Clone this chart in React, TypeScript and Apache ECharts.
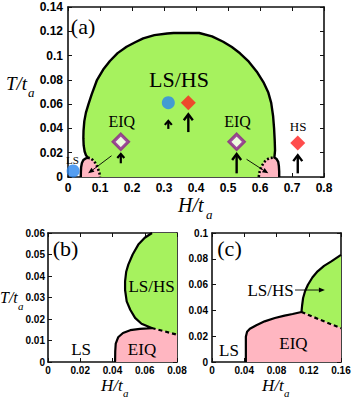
import React, { useEffect, useRef } from "react";
import * as echarts from "echarts";

type Pt = [number, number];

const SERIF = "'Liberation Serif', 'DejaVu Serif', serif";
const SANS = "'Liberation Sans', Arial, sans-serif";
const GREEN = "#a6f25e";
const PINK = "#ffb6c1";
const BLUE = "#2b86ee";
const RED = "#ff1f1f";
const PURPLE = "#8b1c8b";

// ---------- axis ranges / ticks ----------
const axisA = { xMin: 0, xMax: 0.8, xStep: 0.1, yMin: 0, yMax: 0.14, yStep: 0.02 };
const axisB = { xMin: 0, xMax: 0.08, xStep: 0.02, yMin: 0, yMax: 0.06, yStep: 0.01 };
const axisC = { xMin: 0, xMax: 0.16, xStep: 0.04, yMin: 0, yMax: 0.1, yStep: 0.02 };

// ---------- panel (a) boundaries (H, T) ----------
const aLeftPinkSolid: Pt[] = [
  [0.04, 0], [0.0402, 0.004], [0.041, 0.008], [0.0435, 0.0115], [0.048, 0.014], [0.055, 0.0153], [0.062, 0.0158],
];
const aLeftPinkDotted: Pt[] = [
  [0.062, 0.0158], [0.07, 0.0155], [0.078, 0.0138], [0.086, 0.0113], [0.093, 0.0075], [0.098, 0.0035], [0.1, 0],
];
const aDome: Pt[] = [
  [0.062, 0.0158], [0.056, 0.018], [0.052, 0.021], [0.049, 0.026], [0.048, 0.032], [0.0485, 0.038],
  [0.051, 0.046], [0.056, 0.053], [0.064, 0.06], [0.074, 0.068], [0.09, 0.0795], [0.11, 0.0885],
  [0.131, 0.0955], [0.155, 0.102], [0.183, 0.1073], [0.21, 0.111], [0.235, 0.1142], [0.27, 0.1168],
  [0.31, 0.1182], [0.33, 0.1186], [0.41, 0.1186], [0.45, 0.1158], [0.485, 0.1114], [0.512, 0.107],
  [0.5375, 0.1019], [0.565, 0.095], [0.59, 0.0867], [0.612, 0.0775], [0.626, 0.0695], [0.635, 0.061],
  [0.641, 0.05], [0.644, 0.04], [0.646, 0.03], [0.647, 0.022], [0.645, 0.016],
];
const aRightPinkDotted: Pt[] = [
  [0.596, 0], [0.599, 0.0045], [0.605, 0.0088], [0.613, 0.0122], [0.622, 0.0145], [0.632, 0.0157], [0.645, 0.016],
];
const aRightPinkSolid: Pt[] = [
  [0.645, 0.016], [0.652, 0.0148], [0.657, 0.0125], [0.659, 0.009], [0.66, 0.0045], [0.66, 0],
];

// markers (a)
const aBlueCircles: Pt[] = [[0.016, 0.005], [0.3135, 0.0612]];
const aRedDiamonds: Pt[] = [[0.376, 0.0612], [0.718, 0.028]];
const aPurpleDiamonds: Pt[] = [[0.165, 0.029], [0.527, 0.029]];

// arrows [H1, T1, H2, T2]
const aBigUp: number[][] = [[0.376, 0.037, 0.376, 0.0517], [0.527, 0.003, 0.527, 0.019], [0.718, 0.003, 0.718, 0.018]];
const aSmallUp: number[][] = [[0.3135, 0.0396, 0.3135, 0.0462], [0.165, 0.0113, 0.165, 0.019]];
const aThin: number[][] = [[0.136, 0.0175, 0.063, 0.003], [0.558, 0.0146, 0.626, 0.003]];

// labels (a)
const aLabelPos: Pt[] = [[0.047, 0.124], [0.347, 0.08], [0.168, 0.0453], [0.53, 0.0453], [0.719, 0.0412], [0.014, 0.0138]];
const aLabelText = ["(a)", "LS/HS", "EIQ", "EIQ", "HS", "LS"];
const aLabelSize = [22, 22, 16, 16, 13, 11];

// ---------- panel (b) ----------
const bPinkSolid: Pt[] = [
  [0.0416, 0], [0.0417, 0.005], [0.042, 0.0085], [0.0435, 0.0115], [0.0465, 0.0135], [0.051, 0.0148],
  [0.057, 0.0154], [0.0643, 0.0158],
];
const bDashed: Pt[] = [[0.0643, 0.0158], [0.072, 0.0143], [0.08, 0.0127]];
const bGreen: Pt[] = [
  [0.0643, 0.0158], [0.058, 0.0178], [0.054, 0.0205], [0.051, 0.0243], [0.0488, 0.0282], [0.0478, 0.0335],
  [0.0478, 0.0375], [0.0485, 0.042], [0.0498, 0.0453], [0.0525, 0.05], [0.056, 0.0546], [0.06, 0.0578], [0.0645, 0.06],
];
const bLabelPos: Pt[] = [[0.0109, 0.0526], [0.0642, 0.0349], [0.0205, 0.0056], [0.0583, 0.0056]];
const bLabelText = ["(b)", "LS/HS", "LS", "EIQ"];
const bLabelSize = [22, 17, 17, 17];

// ---------- panel (c) ----------
const cPinkSolid: Pt[] = [
  [0.042, 0], [0.042, 0.0196], [0.0435, 0.0235], [0.047, 0.0258], [0.055, 0.0285], [0.0653, 0.0315],
  [0.078, 0.0341], [0.09, 0.0359], [0.1, 0.0372], [0.111, 0.0388],
];
const cDashed: Pt[] = [[0.111, 0.0388], [0.135, 0.0325], [0.16, 0.0262]];
const cGreen: Pt[] = [
  [0.111, 0.0388], [0.1118, 0.044], [0.113, 0.0496], [0.1155, 0.055], [0.119, 0.0599], [0.1245, 0.0655],
  [0.131, 0.0703], [0.139, 0.0745], [0.148, 0.078], [0.16, 0.083],
];
const cThin: number[][] = [[0.103, 0.0558, 0.14, 0.0558]];
const cLabelPos: Pt[] = [[0.0217, 0.0876], [0.0726, 0.0558], [0.0211, 0.0093], [0.101, 0.0143]];
const cLabelText = ["(c)", "LS/HS", "LS", "EIQ"];
const cLabelSize = [22, 17, 17, 17];

// ---------- helpers ----------
const polySeries = (ax: number, pts: Pt[], fill: string, z = 1) => ({
  type: "custom",
  xAxisIndex: ax,
  yAxisIndex: ax,
  z,
  silent: true,
  clip: true,
  data: [pts[0]],
  encode: { x: 0, y: 1 },
  renderItem: (_p: any, api: any) => ({
    type: "polygon",
    shape: { points: pts.map((p) => api.coord(p)) },
    style: { fill, stroke: fill, lineWidth: 0.5 },
  }),
});

const lineSeries = (ax: number, pts: Pt[], type: any, width: number) => ({
  type: "line",
  xAxisIndex: ax,
  yAxisIndex: ax,
  data: pts,
  symbol: "none",
  z: 3,
  silent: true,
  clip: true,
  lineStyle: { color: "#000", width, type, cap: "butt", join: "round" },
});

const arrowSeries = (ax: number, arrows: number[][], width: number, head: number, half: number, filled: boolean) => ({
  type: "custom",
  xAxisIndex: ax,
  yAxisIndex: ax,
  z: 5,
  silent: true,
  data: arrows,
  encode: { x: [0, 2], y: [1, 3] },
  renderItem: (_p: any, api: any) => {
    const a = api.coord([api.value(0), api.value(1)]);
    const b = api.coord([api.value(2), api.value(3)]);
    const dx = b[0] - a[0];
    const dy = b[1] - a[1];
    const L = Math.hypot(dx, dy) || 1;
    const ux = dx / L;
    const uy = dy / L;
    const bx = b[0] - ux * head;
    const by = b[1] - uy * head;
    const l = [bx - uy * half, by + ux * half];
    const r = [bx + uy * half, by - ux * half];
    const end = filled ? [bx, by] : [b[0] - ux * 1, b[1] - uy * 1];
    return {
      type: "group",
      children: [
        {
          type: "line",
          shape: { x1: a[0], y1: a[1], x2: end[0], y2: end[1] },
          style: { stroke: "#000", lineWidth: width },
        },
        filled
          ? { type: "polygon", shape: { points: [b, l, r] }, style: { fill: "#000" } }
          : { type: "polyline", shape: { points: [l, b, r] }, style: { stroke: "#000", lineWidth: width, fill: "none" } },
      ],
    };
  },
});

const textSeries = (ax: number, pts: Pt[], texts: string[], sizes: number[]) => ({
  type: "custom",
  xAxisIndex: ax,
  yAxisIndex: ax,
  z: 6,
  silent: true,
  data: pts,
  encode: { x: 0, y: 1 },
  renderItem: (p: any, api: any) => {
    const c = api.coord([api.value(0), api.value(1)]);
    return {
      type: "text",
      x: c[0],
      y: c[1],
      style: {
        text: texts[p.dataIndex],
        fontSize: sizes[p.dataIndex],
        fontFamily: SERIF,
        fill: "#000",
        align: "center",
        verticalAlign: "middle",
      },
    };
  },
});

const mkX = (grid: number, r: any, fs: number, margin: number, pos: "bottom" | "top") => ({
  type: "value",
  gridIndex: grid,
  position: pos,
  min: r.xMin,
  max: r.xMax,
  interval: r.xStep,
  axisLine: { show: true, onZero: false, lineStyle: { color: "#111", width: 1.6 } },
  axisTick: { show: true, inside: true, length: 4, lineStyle: { color: "#111", width: 1 } },
  axisLabel: {
    show: pos === "bottom",
    margin,
    color: "#000",
    fontFamily: SANS,
    fontWeight: "bold",
    fontSize: fs,
  },
  splitLine: { show: false },
});
const mkY = (grid: number, r: any, fs: number, margin: number, pos: "left" | "right") => ({
  type: "value",
  gridIndex: grid,
  position: pos,
  min: r.yMin,
  max: r.yMax,
  interval: r.yStep,
  axisLine: { show: true, onZero: false, lineStyle: { color: "#111", width: 1.6 } },
  axisTick: { show: true, inside: true, length: 4, lineStyle: { color: "#111", width: 1 } },
  axisLabel: {
    show: pos === "left",
    margin,
    color: "#000",
    fontFamily: SANS,
    fontWeight: "bold",
    fontSize: fs,
  },
  splitLine: { show: false },
});

const axisTitle = (x: number, y: number, main: string, sub: string, fs: number, sx: number, sy: number, sfs: number) => [
  {
    type: "text",
    x,
    y,
    style: { text: main, fontFamily: SERIF, fontStyle: "italic", fontSize: fs, fill: "#000", align: "left", verticalAlign: "top" },
  },
  {
    type: "text",
    x: sx,
    y: sy,
    style: { text: sub, fontFamily: SERIF, fontStyle: "italic", fontSize: sfs, fill: "#000", align: "left", verticalAlign: "top" },
  },
];

export default function App() {
  const ref = useRef<HTMLDivElement>(null);
  useEffect(() => {
    if (!ref.current) return;
    const chart = echarts.init(ref.current, undefined, { renderer: "svg" });
    const aGreen: Pt[] = [...aLeftPinkSolid, ...aDome, ...aRightPinkSolid];
    const aLeftPink: Pt[] = [...aLeftPinkSolid, ...aLeftPinkDotted.slice(1)];
    const aRightPink: Pt[] = [...aRightPinkDotted, ...aRightPinkSolid.slice(1)];
    const bGreenPoly: Pt[] = [...bGreen, [0.08, 0.06], ...[...bDashed].reverse()];
    const bPinkPoly: Pt[] = [...bPinkSolid, ...bDashed.slice(1), [0.08, 0]];
    const cGreenPoly: Pt[] = [...cGreen, ...[...cDashed].reverse()];
    const cPinkPoly: Pt[] = [...cPinkSolid, ...cDashed.slice(1), [0.16, 0]];

    chart.setOption({
      animation: false,
      backgroundColor: "#fff",
      grid: [
        { left: 68, top: 7, width: 256, height: 170 },
        { left: 48, top: 233, width: 129, height: 129 },
        { left: 212, top: 233, width: 129, height: 129 },
      ],
      xAxis: [
        mkX(0, axisA, 12, 5, "bottom"),
        mkX(0, axisA, 12, 5, "top"),
        mkX(1, axisB, 10, 3, "bottom"),
        mkX(1, axisB, 10, 3, "top"),
        mkX(2, axisC, 10, 3, "bottom"),
        mkX(2, axisC, 10, 3, "top"),
      ],
      yAxis: [
        mkY(0, axisA, 12, 5, "left"),
        mkY(0, axisA, 12, 5, "right"),
        mkY(1, axisB, 10, 3, "left"),
        mkY(1, axisB, 10, 3, "right"),
        mkY(2, axisC, 10, 4, "left"),
        mkY(2, axisC, 10, 4, "right"),
      ],
      graphic: [
        ...axisTitle(6, 74, "T/t", "a", 19, 28, 86, 13),
        ...axisTitle(178, 195, "H/t", "a", 20, 206, 208, 13),
        ...axisTitle(0, 289, "T/t", "a", 16, 18, 300, 11),
        ...axisTitle(101, 377, "H/t", "a", 17, 123, 387, 11),
        ...axisTitle(262, 377, "H/t", "a", 17, 284, 387, 11),
      ],
      series: [
        // panel (a)
        polySeries(0, aGreen, GREEN, 1),
        polySeries(0, aLeftPink, PINK, 2),
        polySeries(0, aRightPink, PINK, 2),
        lineSeries(0, [...aLeftPinkSolid, ...aDome.slice(1), ...aRightPinkSolid.slice(1)], "solid", 2.4),
        lineSeries(0, aLeftPinkDotted, [2, 2], 2.6),
        lineSeries(0, aRightPinkDotted, [2, 2], 2.6),
        {
          type: "scatter", xAxisIndex: 0, yAxisIndex: 0, z: 4, silent: true,
          data: aBlueCircles, symbol: "circle", symbolSize: 13, itemStyle: { color: BLUE },
        },
        {
          type: "scatter", xAxisIndex: 0, yAxisIndex: 0, z: 4, silent: true,
          data: aRedDiamonds, symbol: "diamond", symbolSize: 15, itemStyle: { color: RED },
        },
        {
          type: "scatter", xAxisIndex: 0, yAxisIndex: 0, z: 4, silent: true,
          data: aPurpleDiamonds, symbol: "diamond", symbolSize: 15,
          itemStyle: { color: "#fff", borderColor: PURPLE, borderWidth: 3.2 },
        },
        arrowSeries(0, aBigUp, 2.4, 6, 4.5, false),
        arrowSeries(0, aSmallUp, 2.2, 4, 3.5, false),
        arrowSeries(0, aThin, 0.9, 6, 2.5, true),
        textSeries(0, aLabelPos, aLabelText, aLabelSize),
        // panel (b)
        polySeries(2, bGreenPoly, GREEN, 1),
        polySeries(2, bPinkPoly, PINK, 2),
        lineSeries(2, [...bPinkSolid, ...bGreen.slice(1)], "solid", 2.2),
        lineSeries(2, bDashed, [4, 3], 2.2),
        textSeries(2, bLabelPos, bLabelText, bLabelSize),
        // panel (c)
        polySeries(4, cGreenPoly, GREEN, 1),
        polySeries(4, cPinkPoly, PINK, 2),
        lineSeries(4, [...cPinkSolid, ...cGreen.slice(1)], "solid", 2.2),
        lineSeries(4, cDashed, [4, 3], 2.2),
        arrowSeries(4, cThin, 0.9, 6, 2.5, true),
        textSeries(4, cLabelPos, cLabelText, cLabelSize),
      ],
    });
    return () => chart.dispose();
  }, []);
  return <div ref={ref} style={{ position: "absolute", left: 0, top: 0, width: 354, height: 401 }} />;
}
